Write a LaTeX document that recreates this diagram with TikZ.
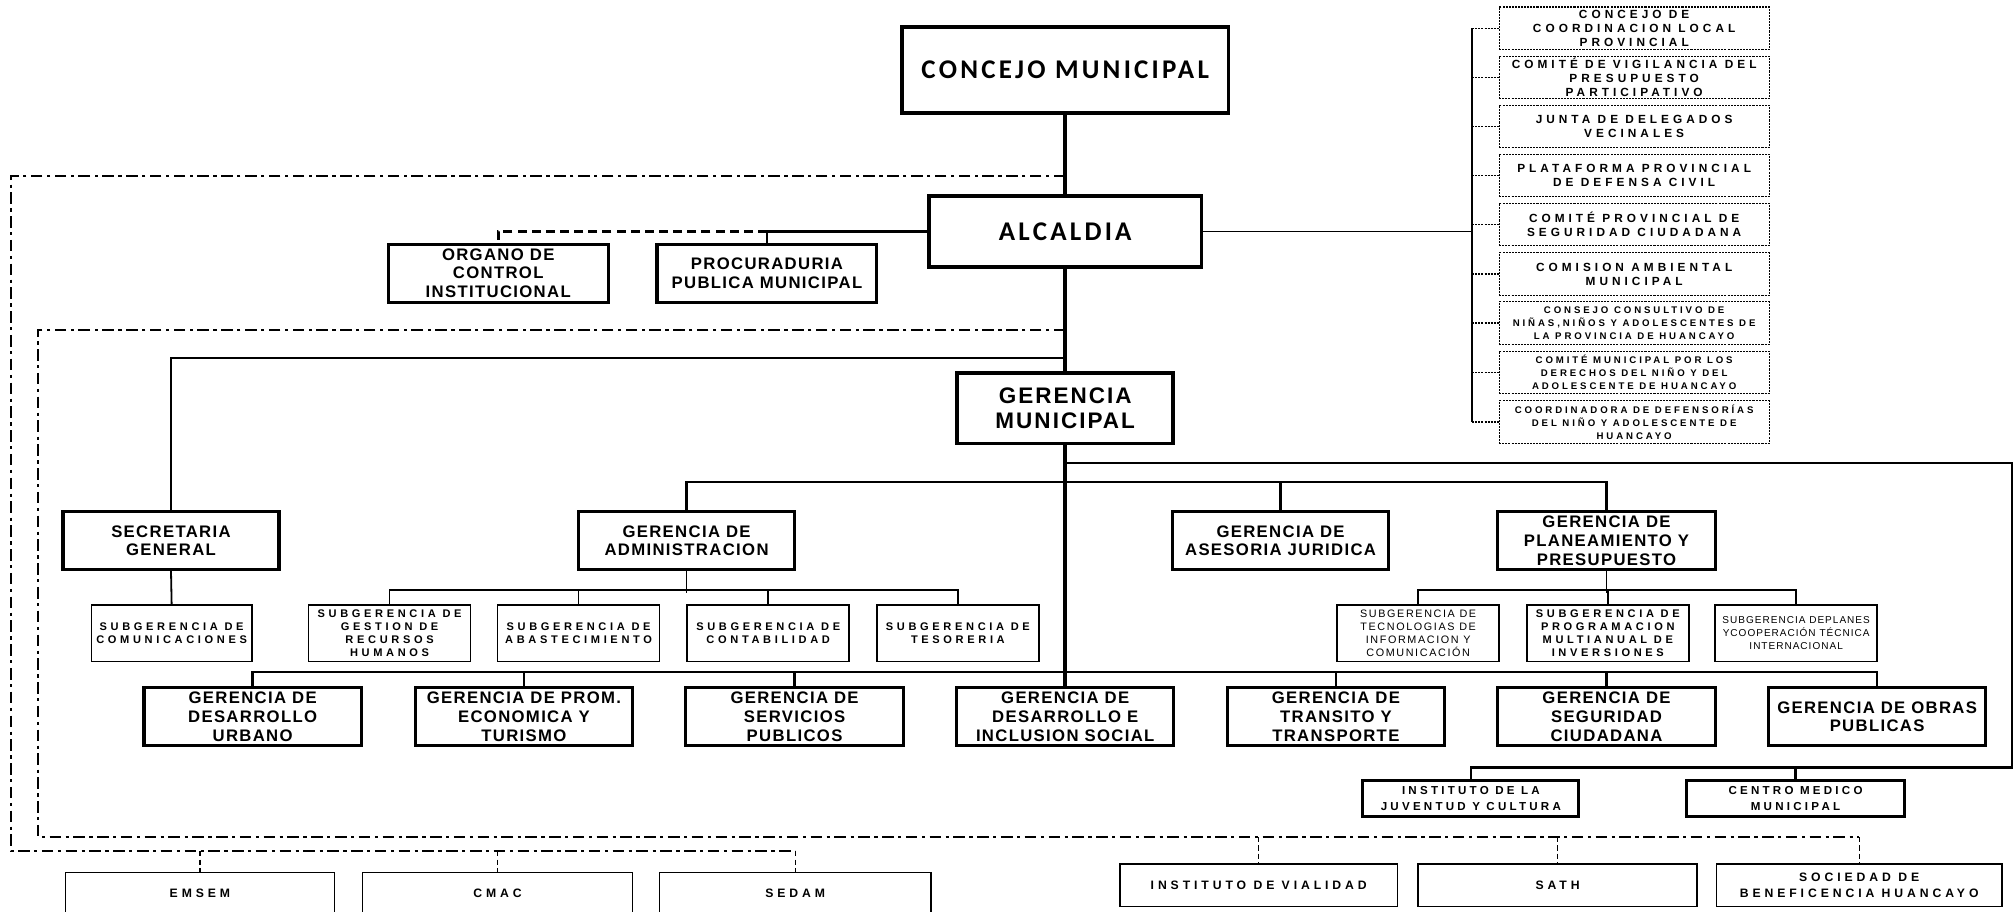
\documentclass[tikz,border=0pt]{standalone}
\usepackage{fontspec}
\setmainfont{Liberation Sans}
\newfontfamily\calfont{Carlito}
\begin{document}
\begin{tikzpicture}[x=1pt,y=-1pt,
  bigbox/.style={draw, line width=2.8pt, inner sep=0pt, align=center,
    font=\calfont\bfseries\fontsize{21}{24}\selectfont\addfontfeatures{LetterSpace=12}},
  gmbox/.style={draw, line width=2.8pt, inner sep=0pt, align=center,
    minimum width=168pt, minimum height=55pt,
    font=\bfseries\fontsize{17.5}{19.7}\selectfont\addfontfeatures{LetterSpace=9}},
  gbox/.style={draw, line width=2.4pt, inner sep=0pt, align=center,
    minimum width=169pt, minimum height=45pt,
    font=\bfseries\fontsize{13}{14.5}\selectfont\addfontfeatures{LetterSpace=8}},
  sbox/.style={draw, line width=1.2pt, inner sep=0pt, align=center,
    minimum width=126pt, minimum height=44pt,
    font=\bfseries\fontsize{8.6}{10}\selectfont\addfontfeatures{LetterSpace=33}},
  sboxr/.style={draw, line width=1.2pt, inner sep=0pt, align=center,
    minimum width=126pt, minimum height=44pt,
    font=\fontsize{8.4}{10}\selectfont\addfontfeatures{LetterSpace=15}},
  sboxp/.style={draw, line width=1.2pt, inner sep=0pt, align=center,
    minimum width=126pt, minimum height=44pt,
    font=\fontsize{7.8}{10}\selectfont\addfontfeatures{LetterSpace=10}},
  cbox/.style={draw, line width=1pt, dash pattern=on 1.6pt off 0.8pt, inner sep=0pt, align=center,
    minimum width=210pt, minimum height=33pt,
    font=\bfseries\fontsize{9.2}{10.8}\selectfont\addfontfeatures{LetterSpace=34}},
  cboxs/.style={cbox, font=\bfseries\fontsize{7.5}{10}\selectfont\addfontfeatures{LetterSpace=30}},
  ibox/.style={draw, line width=2.2pt, inner sep=0pt, align=center,
    minimum height=28pt,
    font=\bfseries\fontsize{9}{12.5}\selectfont\addfontfeatures{LetterSpace=28}},
  ebox/.style={draw, line width=1.2pt, inner sep=0pt, align=center,
    minimum height=33pt,
    font=\bfseries\fontsize{9.5}{12.2}\selectfont\addfontfeatures{LetterSpace=32}},
  spine/.style={line width=2.8pt},
  bar/.style={line width=2pt},
  thinbar/.style={line width=1.4pt},
  dd/.style={line width=1.3pt, dash pattern=on 9pt off 3.5pt on 2.5pt off 3.5pt},
  stub/.style={line width=1pt, dash pattern=on 4pt off 2.5pt},
  cstub/.style={line width=1pt, dash pattern=on 1.6pt off 0.8pt},
  odash/.style={line width=2.2pt, dash pattern=on 7pt off 4pt}
]
\useasboundingbox (0,0) rectangle (1568,709);
\clip (0,0) rectangle (1568,709);

% top level
\node[bigbox, minimum width=254pt, minimum height=67pt] (concejo) at (828.5,54.5) {CONCEJO MUNICIPAL};
\node[bigbox, minimum width=212pt, minimum height=55pt] (alcaldia) at (828.5,180) {ALCALDIA};
\node[gmbox] (gm) at (828.5,317.5) {GERENCIA\\MUNICIPAL};

\node[gbox, minimum width=171pt] (organo) at (387.5,212.5) {ORGANO DE\\CONTROL\\INSTITUCIONAL};
\node[gbox, minimum width=171pt] (proc) at (596.5,212.5) {PROCURADURIA\\PUBLICA MUNICIPAL};

% committees
\node[cbox] (c1) at (1271,22) {CONCEJO DE\\COORDINACION LOCAL\\PROVINCIAL};
\node[cbox] (c2) at (1271,60.3) {COMITÉ DE VIGILANCIA DEL\\PRESUPUESTO\\PARTICIPATIVO};
\node[cbox] (c3) at (1271,98.4) {JUNTA DE DELEGADOS\\VECINALES};
\node[cbox] (c4) at (1271,136.5) {PLATAFORMA PROVINCIAL\\DE DEFENSA CIVIL};
\node[cbox] (c5) at (1271,174.6) {COMITÉ PROVINCIAL DE\\SEGURIDAD CIUDADANA};
\node[cbox] (c6) at (1271,213.1) {COMISION AMBIENTAL\\MUNICIPAL};
\node[cboxs] (c7) at (1271,251.2) {CONSEJO CONSULTIVO DE\\NIÑAS,NIÑOS Y ADOLESCENTES DE\\LA PROVINCIA DE HUANCAYO};
\node[cboxs] (c8) at (1271,289.7) {COMITÉ MUNICIPAL POR LOS\\DERECHOS DEL NIÑO Y DEL\\ADOLESCENTE DE HUANCAYO};
\node[cboxs] (c9) at (1271,328.2) {COORDINADORA DE DEFENSORÍAS\\DEL NIÑO Y ADOLESCENTE DE\\HUANCAYO};

% second level
\node[gbox, minimum width=168pt] (sec) at (133,420.5) {SECRETARIA\\GENERAL};
\node[gbox, minimum width=168pt] (admin) at (534,420.5) {GERENCIA DE\\ADMINISTRACION};
\node[gbox, minimum width=168pt] (ases) at (996,420.5) {GERENCIA DE\\ASESORIA JURIDICA};
\node[gbox, minimum width=169pt] (plan) at (1249.5,420.5) {GERENCIA DE\\PLANEAMIENTO Y\\PRESUPUESTO};

% subgerencias
\node[sbox, minimum width=125pt] (comu) at (133.5,492.5) {SUBGERENCIA DE\\COMUNICACIONES};
\node[sbox] (rrhh) at (303,492.5) {SUBGERENCIA DE\\GESTION DE\\RECURSOS\\HUMANOS};
\node[sbox] (abast) at (450,492.5) {SUBGERENCIA DE\\ABASTECIMIENTO};
\node[sbox] (cont) at (597.5,492.5) {SUBGERENCIA DE\\CONTABILIDAD};
\node[sbox] (tes) at (745,492.5) {SUBGERENCIA DE\\TESORERIA};
\node[sboxr] (tic) at (1103,492.5) {SUBGERENCIA DE\\TECNOLOGIAS DE\\INFORMACION Y\\COMUNICACIÓN};
\node[sbox] (prog) at (1250.5,492.5) {SUBGERENCIA DE\\PROGRAMACION\\MULTIANUAL DE\\INVERSIONES};
\node[sboxp] (planes) at (1397,492.5) {SUBGERENCIA DEPLANES\\YCOOPERACIÓN TÉCNICA\\INTERNACIONAL};

% bottom gerencias
\node[gbox] (du) at (196.5,557.5) {GERENCIA DE\\DESARROLLO\\URBANO};
\node[gbox] (prom) at (407.5,557.5) {GERENCIA DE PROM.\\ECONOMICA Y\\TURISMO};
\node[gbox] (sp) at (618,557.5) {GERENCIA DE\\SERVICIOS\\PUBLICOS};
\node[gbox] (dis) at (828.5,557.5) {GERENCIA DE\\DESARROLLO E\\INCLUSION SOCIAL};
\node[gbox] (tt) at (1039,557.5) {GERENCIA DE\\TRANSITO Y\\TRANSPORTE};
\node[gbox] (sc) at (1249.5,557.5) {GERENCIA DE\\SEGURIDAD\\CIUDADANA};
\node[gbox] (op) at (1460,557.5) {GERENCIA DE OBRAS\\PUBLICAS};

% institutos
\node[ibox, minimum width=168pt] (juv) at (1144,621) {INSTITUTO DE LA\\JUVENTUD Y CULTURA};
\node[ibox, minimum width=169pt] (cmed) at (1396.5,621) {CENTRO MEDICO\\MUNICIPAL};

% empresas
\node[ebox, minimum width=209pt, anchor=north] (emsem) at (155.5,678) {EMSEM};
\node[ebox, minimum width=210pt, anchor=north] (cmac) at (387,678) {CMAC};
\node[ebox, minimum width=211pt, anchor=north] (sedam) at (618.5,678) {SEDAM};
\node[ebox, minimum width=216pt] (vial) at (979,688.5) {INSTITUTO DE VIALIDAD};
\node[ebox, minimum width=217pt] (sath) at (1211.5,688.5) {SATH};
\node[ebox, minimum width=222pt] (soc) at (1446,688.5) {SOCIEDAD DE\\BENEFICENCIA HUANCAYO};

% coordinates
\coordinate (cvtop) at (1145,22);
\coordinate (cvbot) at (1145,328.2);
\coordinate (jsec) at (828.5,278.5);
\coordinate (jr) at (828.5,360);
\coordinate (rc) at (1565,360);
\coordinate (rb) at (1565,597);
\coordinate (o1) at (828.5,137);
\coordinate (otl) at (8.5,137);
\coordinate (obl) at (8.5,662);
\coordinate (i1) at (828.5,256.5);
\coordinate (itl) at (29.5,256.5);
\coordinate (ibl) at (29.5,651);

% spine
\draw[spine] (concejo.south) -- (alcaldia.north);
\draw[spine] (alcaldia.south) -- (gm.north);
\draw[spine] (gm.south) -- (dis.north);

% alcaldia side
\draw[bar] (alcaldia.west) -- (alcaldia.west -| proc.north) -- (proc.north);
\draw[odash] (alcaldia.west -| proc.north) -| (organo.north);
\draw[thinbar] (alcaldia.east) -- (alcaldia.east -| cvtop);
\draw[line width=1.6pt] (cvtop) -- (cvbot);
\foreach \c in {c1,c2,c3,c4,c5,c6,c7,c8,c9}
  \draw[cstub] (\c.west -| cvtop) -- (\c.west);

% secretaria
\draw[bar] (jsec) -| (sec.north);
\draw[thinbar] (sec.south) -- (comu.north);

% admin branch
\draw[bar] (admin.north) -- ++(0,-22) -| (plan.north);
\draw[bar] (ases.north) -- ++(0,-22);
\draw[thinbar] (admin.south) -- ++(0,17);
\draw[thinbar] (rrhh.north) -- ++(0,-11) -| (tes.north);
\draw[thinbar] (abast.north) -- ++(0,-11);
\draw[thinbar] (cont.north) -- ++(0,-11);

% planeamiento subs
\draw[thinbar] (plan.south) -- ++(0,17);
\draw[thinbar] (tic.north) -- ++(0,-11) -| (planes.north);
\draw[thinbar] (prog.north) -- ++(0,-11);

% bottom gerencias bar
\draw[bar] (du.north) -- ++(0,-11) -| (op.north);
\foreach \g in {prom,sp,tt,sc}
  \draw[bar] (\g.north) -- ++(0,-11);

% right loop to institutos
\draw[bar] (jr) -- (rc) -- (rb) -| (juv.north);
\draw[bar] (cmed.north) -- (cmed.north |- rb);

% dash-dot outer
\draw[dd] (o1) -- (otl) -- (obl) -- (sedam.north |- obl);
\foreach \e in {emsem,cmac,sedam}
  \draw[stub] (\e.north |- obl) -- (\e.north);

% dash-dot inner
\draw[dd] (i1) -- (itl) -- (ibl) -- (soc.north |- ibl);
\foreach \e in {vial,sath,soc}
  \draw[stub] (\e.north |- ibl) -- (\e.north);
\end{tikzpicture}
\end{document}
